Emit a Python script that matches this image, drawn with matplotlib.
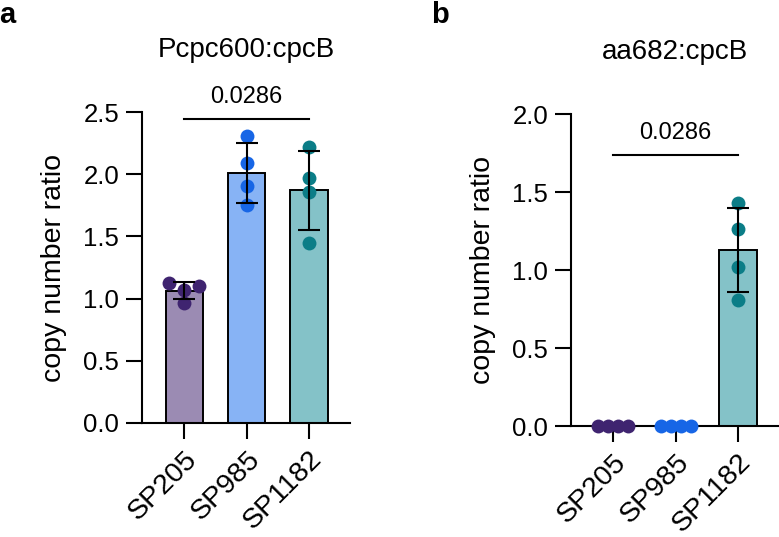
import numpy as np
import matplotlib
matplotlib.use('Agg')
import matplotlib.pyplot as plt

plt.rcParams['font.family'] = ['Liberation Sans', 'DejaVu Sans']

groups = ['SP205', 'SP985', 'SP1182']
bar_colors = ['#9b8bb3', '#87b3f5', '#84c2c8']
dot_colors = ['#3f2470', '#1766e6', '#0b7d87']

# panel a: Pcpc600:cpcB
a_points = [[1.124, 1.067, 1.104, 0.965],
            [2.31, 2.09, 1.905, 1.75],
            [2.22, 1.97, 1.86, 1.45]]
a_mean = [1.065, 2.01, 1.87]
a_sd = [0.07, 0.24, 0.32]
a_jitter = [[-0.24, 0, 0.24, 0], [0, 0, 0, 0], [0, 0, 0, 0]]

# panel b: aa682:cpcB
b_points = [[0, 0, 0, 0],
            [0, 0, 0, 0],
            [1.43, 1.26, 1.017, 0.81]]
b_mean = [0, 0, 1.13]
b_sd = [0, 0, 0.27]
b_jitter = [[-0.24, -0.08, 0.08, 0.24], [-0.24, -0.08, 0.08, 0.24], [0, 0, 0, 0]]

pval = '0.0286'

W, H = 779, 537
fig = plt.figure(figsize=(W / 100, H / 100), dpi=100)
ax1 = fig.add_axes([142 / W, 1 - 423 / H, (350 - 142) / W, (423 - 112) / H])
ax2 = fig.add_axes([571 / W, 1 - 426 / H, (779 - 571) / W, (426 - 114) / H])


def draw(ax, points, mean, sd, jitter, ymax, step, title, sig_y, txt_y):
    x = np.arange(len(groups))
    ax.bar(x, mean, width=0.6, color=bar_colors, edgecolor='black', linewidth=1.4, zorder=1)
    for i in range(len(groups)):
        xs = x[i] + np.array(jitter[i])
        ax.scatter(xs, points[i], s=100, color=dot_colors[i], zorder=3, linewidths=0, clip_on=False)
        if sd[i] > 0:
            ax.errorbar(x[i], mean[i], yerr=sd[i], color='black', elinewidth=1.5,
                        capsize=8, capthick=1.5, zorder=4)
    ax.set_xlim(-0.68, 2.66)
    ax.set_ylim(0, ymax)
    ax.set_yticks(np.arange(0, ymax + 0.01, step))
    ax.set_yticklabels(['%.1f' % v for v in np.arange(0, ymax + 0.01, step)])
    ax.set_xticks(x)
    ax.set_xticklabels(groups, rotation=45, ha='right', rotation_mode='anchor')
    for s in ['top', 'right']:
        ax.spines[s].set_visible(False)
    for s in ['left', 'bottom']:
        ax.spines[s].set_linewidth(1.5)
    ax.tick_params(axis='both', length=11.5, width=1.5, pad=5)
    ax.tick_params(axis='y', labelsize=18.5)
    ax.tick_params(axis='x', labelsize=20.5)
    ax.set_ylabel('copy number ratio', fontsize=20.5, labelpad=12)
    ax.text(0.5, 1.2, title, transform=ax.transAxes, ha='center', va='center', fontsize=20)
    ax.plot([0, 2], [sig_y, sig_y], color='black', lw=1.5, clip_on=False)
    ax.text(1, txt_y, pval, ha='center', va='center', fontsize=17)


draw(ax1, a_points, a_mean, a_sd, a_jitter, 2.5, 0.5, 'Pcpc600:cpcB', 2.44, 2.62)
draw(ax2, b_points, b_mean, b_sd, b_jitter, 2.0, 0.5, 'aa682:cpcB', 1.74, 1.88)

fig.text(7 / W, 1 - 15 / H, 'a', fontsize=21, fontweight='bold', ha='center', va='center')
fig.text(440 / W, 1 - 15 / H, 'b', fontsize=21, fontweight='bold', ha='center', va='center')

fig.savefig('out.png', dpi=100)
